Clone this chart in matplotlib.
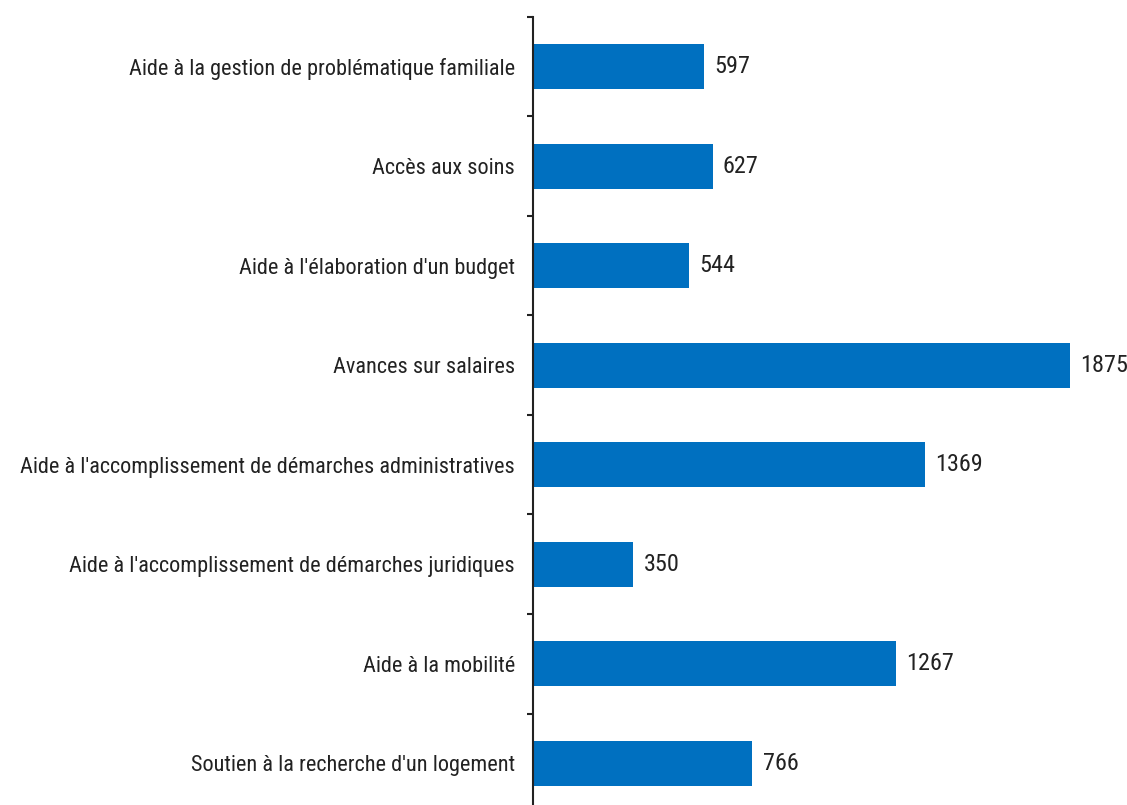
import matplotlib.pyplot as plt
import numpy as np

categories = [
    "Aide à la gestion de problématique familiale",
    "Accès aux soins",
    "Aide à l'élaboration d'un budget",
    "Avances sur salaires",
    "Aide à l'accomplissement de démarches administratives",
    "Aide à l'accomplissement de démarches juridiques",
    "Aide à la mobilité",
    "Soutien à la recherche d'un logement",
]
values = [597, 627, 544, 1875, 1369, 350, 1267, 766]

font = ['Roboto Condensed', 'DejaVu Sans']
bar_color = '#0070C0'
text_color = '#222222'

fig = plt.figure(figsize=(11.27, 8.05), dpi=100)
ax = fig.add_axes([0.473, -0.01, 0.508, 0.989])

y = np.arange(len(categories))
ax.barh(y, values, height=0.45, color=bar_color)

# value labels just right of each bar
for yi, v in zip(y, values):
    ax.text(v + 36, yi, str(v), va='center', ha='left', fontsize=17.5,
            family=font, color=text_color)

ax.set_xlim(0, 2000)
ax.set_ylim(len(categories) - 0.5, -0.5)
ax.set_yticks(y)
ax.set_yticklabels(categories, family=font, fontsize=16, color=text_color)
ax.set_yticks(np.arange(len(categories) + 1) - 0.5, minor=True)
ax.tick_params(axis='y', which='major', length=0, pad=13)
ax.tick_params(axis='y', which='minor', length=4, width=1.5, color=text_color)
ax.set_xticks([])

for side in ['top', 'right', 'bottom']:
    ax.spines[side].set_visible(False)
ax.spines['left'].set_linewidth(1.5)
ax.spines['left'].set_color(text_color)

fig.savefig('out.png', dpi=100)
